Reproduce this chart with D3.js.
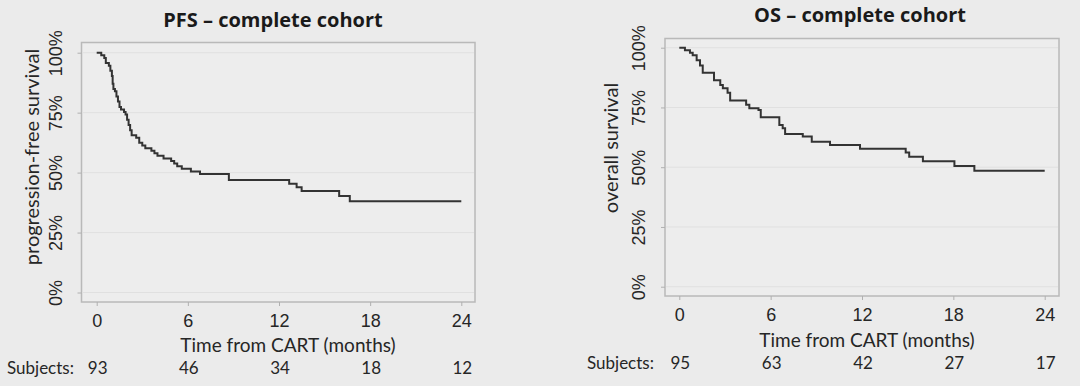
<!DOCTYPE html>
<meta charset="utf-8">
<style>
body { margin: 0; background: #ebebeb; }
svg { display: block; font-family: Lato, "Open Sans", sans-serif; }
.frame { fill: #ededed; stroke: #b9b9b9; stroke-width: 1.5px; }
.grid line { stroke: #e0e0e0; stroke-width: 1px; }
.tick line { stroke: #b0b0b0; }
.tick text { fill: #262626; font-size: 18px; }
.curve { fill: none; stroke: #333; stroke-width: 2px; }
.title { font-family: "Open Sans", sans-serif; font-size: 20px; font-weight: bold; fill: #1a1a1a; }
.lab { font-size: 19px; fill: #262626; }
.ylab { font-size: 20px; fill: #262626; }
.risk { font-size: 17px; fill: #262626; }
</style>
<svg width="1080" height="386"></svg>
<script src="https://cdn.jsdelivr.net/npm/d3@7"></script>
<script>

// ticks
var monthTicks = [0, 6, 12, 18, 24];
var pctTicks = [0, 25, 50, 75, 100];

// PFS curve (months, % surviving)
var pfsTime = [0, 0.3, 0.5, 0.6, 0.8, 0.9, 1.0, 1.05, 1.1, 1.2, 1.3, 1.4, 1.5, 1.6, 1.8, 1.9, 2.0, 2.1, 2.2, 2.3, 2.6, 2.8, 3.0, 3.2, 3.6, 3.8, 4.0, 4.4, 4.9, 5.1, 5.3, 5.6, 6.2, 6.8, 8.7, 12.67, 13.16, 13.49, 15.96, 16.66, 24];
var pfsSurv = [100, 98.9, 97.8, 95.7, 94.6, 92.5, 90.3, 87.1, 84.9, 83.9, 81.7, 79.6, 77.4, 76.3, 75.3, 74.2, 72.0, 69.9, 67.7, 65.6, 64.5, 62.4, 61.3, 60.2, 59.1, 58.1, 57.0, 55.9, 54.8, 53.8, 52.7, 51.6, 50.5, 49.4, 46.9, 45.3, 43.9, 42.3, 40.2, 38.1, 38.1];
var pfsAtRisk = [93, 46, 34, 18, 12];

// OS curve
var osTime = [0, 0.37, 0.7, 0.88, 1.14, 1.36, 1.54, 2.28, 2.69, 2.86, 3.17, 3.34, 4.39, 4.6, 5.2, 5.35, 6.57, 6.79, 6.95, 8.11, 8.7, 9.9, 11.87, 14.87, 15.1, 16.0, 18.07, 19.38, 24];
var osSurv = [100, 98.9, 97.9, 96.8, 94.7, 92.6, 89.5, 86.4, 84.4, 83.0, 81.1, 77.9, 76.1, 74.7, 73.9, 70.9, 67.7, 66.3, 63.9, 62.8, 60.6, 59.3, 57.7, 56.1, 54.4, 52.5, 50.5, 48.5, 48.5];
var osAtRisk = [95, 63, 42, 27, 17];

var svg = d3.select("svg");

function panel(o) {
  var x = d3.scaleLinear().domain([0, 24]).range(o.xr);
  var y = d3.scaleLinear().domain([0, 100]).range(o.yr);
  var g = svg.append("g");

  g.append("rect").attr("class", "frame")
    .attr("x", o.fx[0]).attr("y", o.fy[0])
    .attr("width", o.fx[1] - o.fx[0]).attr("height", o.fy[1] - o.fy[0]);

  g.append("g").attr("class", "grid")
    .selectAll("line").data(pctTicks).enter().append("line")
    .attr("x1", o.fx[0] + 1).attr("x2", o.fx[1] - 1)
    .attr("y1", function(d) { return y(d); })
    .attr("y2", function(d) { return y(d); });

  var xa = g.append("g")
    .attr("transform", "translate(0," + o.fy[1] + ")")
    .call(d3.axisBottom(x).tickValues(monthTicks).tickSize(4).tickPadding(8));
  xa.select(".domain").remove();

  var ya = g.append("g")
    .attr("transform", "translate(" + o.fx[0] + ",0)")
    .call(d3.axisLeft(y).tickValues(pctTicks).tickSize(4)
      .tickFormat(function(d) { return d + "%"; }));
  ya.select(".domain").remove();
  ya.selectAll("text")
    .attr("x", 0).attr("y", -o.ypad).attr("dy", 0)
    .attr("text-anchor", "middle")
    .attr("transform", "rotate(-90)");

  var pts = o.t.map(function(t, i) { return [t, o.s[i]]; });
  g.append("path").attr("class", "curve")
    .attr("d", d3.line()
      .x(function(d) { return x(d[0]); })
      .y(function(d) { return y(d[1]); })
      .curve(d3.curveStepAfter)(pts));

  g.append("text").attr("class", "title")
    .attr("x", o.titleX).attr("y", o.titleY)
    .attr("text-anchor", "middle").text(o.title);

  g.append("text").attr("class", "lab")
    .attr("x", o.labX).attr("y", o.labY)
    .attr("text-anchor", "middle").text("Time from CART (months)");

  g.append("text").attr("class", "ylab")
    .attr("transform", "translate(" + o.ylabX + "," + o.ylabY + ") rotate(-90)")
    .attr("text-anchor", "middle").text(o.ylab);

  g.append("text").attr("class", "risk")
    .attr("x", o.subjX).attr("y", o.riskY).text("Subjects:");
  g.selectAll("text.rn").data(o.risk).enter().append("text")
    .attr("class", "risk rn")
    .attr("x", function(d, i) { return x(monthTicks[i]) + 1; })
    .attr("y", o.riskY)
    .attr("text-anchor", "middle")
    .text(function(d) { return d; });
}

panel({
  fx: [81.5, 475], fy: [42.5, 302], xr: [96.7, 461.3], yr: [292.5, 52.7],
  t: pfsTime, s: pfsSurv, risk: pfsAtRisk, ypad: 20,
  title: "PFS \u2013 complete cohort", titleX: 273, titleY: 27,
  labX: 288, labY: 352,
  ylab: "progression-free survival", ylabX: 39, ylabY: 157,
  subjX: 7, riskY: 374
});

panel({
  fx: [665, 1059], fy: [38.5, 296], xr: [679.3, 1044.7], yr: [286.7, 47.7],
  t: osTime, s: osSurv, risk: osAtRisk, ypad: 20,
  title: "OS \u2013 complete cohort", titleX: 860, titleY: 22,
  labX: 867, labY: 347,
  ylab: "overall survival", ylabX: 618, ylabY: 148,
  subjX: 587, riskY: 369
});

</script>
